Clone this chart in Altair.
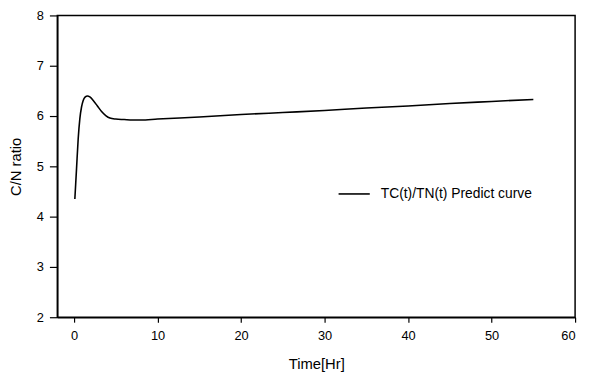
import altair as alt
import pandas as pd

time_hr = [0.1, 0.3, 0.5, 0.7, 0.9, 1.1, 1.35, 1.6, 1.9, 2.3, 2.8, 3.3, 3.8, 4.3,
           5.0, 6.0, 7.0, 8.0, 10, 15, 20, 25, 30, 35, 40, 45, 50, 55]
cn_ratio = [4.35, 4.95, 5.55, 5.95, 6.18, 6.31, 6.38, 6.40, 6.38, 6.31, 6.20, 6.09,
            6.01, 5.96, 5.94, 5.93, 5.92, 5.92, 5.94, 5.98, 6.03, 6.07, 6.11, 6.16,
            6.20, 6.25, 6.29, 6.33]
series_name = "TC(t)/TN(t) Predict curve"
x_ticks = [0, 10, 20, 30, 40, 50, 60]
y_ticks = [2, 3, 4, 5, 6, 7, 8]

df = pd.DataFrame({"t": time_hr, "cn": cn_ratio, "series": series_name})

FONT = "Liberation Sans"

chart = alt.Chart(df).mark_line(color="black", strokeWidth=1.6, interpolate="monotone").encode(
    x=alt.X("t:Q", scale=alt.Scale(domain=[-2, 60], nice=False, zero=False),
            axis=alt.Axis(values=x_ticks, title="Time[Hr]", grid=False,
                          tickSize=5, labelPadding=8, titlePadding=14)),
    y=alt.Y("cn:Q", scale=alt.Scale(domain=[2, 8], nice=False, zero=False),
            axis=alt.Axis(values=y_ticks, title="C/N ratio", grid=False,
                          tickSize=8, labelPadding=6, titlePadding=13)),
    color=alt.Color("series:N", scale=alt.Scale(domain=[series_name], range=["black"]),
                    legend=alt.Legend(title=None, orient="none", legendX=284, legendY=164,
                                      symbolType="stroke", symbolSize=1000,
                                      symbolStrokeWidth=1.6, labelFontSize=14,
                                      labelFont=FONT, labelOffset=10, padding=0,
                                      labelColor="black")),
).properties(
    width=525, height=306,
    autosize=alt.AutoSizeParams(type="none"),
    padding={"left": 50, "top": 5, "right": 7, "bottom": 54},
).configure_view(
    stroke="black", strokeWidth=1.5
).configure_axis(
    domainColor="black", domainWidth=1.5, tickColor="black", tickWidth=1.2,
    labelFont=FONT, titleFont=FONT, labelFontSize=13, titleFontSize=15,
    labelColor="black", titleColor="black", titleFontWeight="normal",
)

chart.save("out.html", embed_options={"renderer": "svg", "actions": False})
